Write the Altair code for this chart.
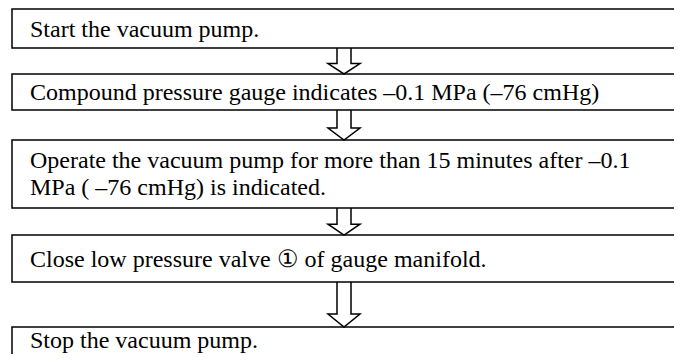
import altair as alt
import pandas as pd

# Flowchart steps (screen-pixel layout)
box_top = [9, 74, 140, 235, 327]
box_bottom = [48, 110, 208, 282, 380]
step_lines = [
    ["Start the vacuum pump."],
    ["Compound pressure gauge indicates \u20130.1 MPa (\u201376 cmHg)"],
    ["Operate the vacuum pump for more than 15 minutes after \u20130.1",
     "MPa ( \u201376 cmHg) is indicated."],
    ["Close low pressure valve \u2460  of gauge manifold."],
    ["Stop the vacuum pump."],
]
line_baselines = [[37], [100], [168, 195], [267], [348]]

BOX_LEFT, BOX_RIGHT, TEXT_X = 12, 700, 30
ARROW_X, SHAFT_HALF, HEAD_HALF = 344, 7, 16

boxes = pd.DataFrame({"x": BOX_LEFT, "x2": BOX_RIGHT, "y": box_top, "y2": box_bottom})

text_rows = []
for lines, bases in zip(step_lines, line_baselines):
    for t, b in zip(lines, bases):
        text_rows.append({"x": TEXT_X, "y": b, "label": t})
texts = pd.DataFrame(text_rows)

arrow_rows = []
for i in range(len(box_top) - 1):
    y0 = box_bottom[i]
    y1 = box_top[i + 1]
    head = min(13, (y1 - y0) * 0.4)
    yh = y1 - head
    pts = [(ARROW_X - SHAFT_HALF, y0), (ARROW_X - SHAFT_HALF, yh), (ARROW_X - HEAD_HALF, yh),
           (ARROW_X, y1), (ARROW_X + HEAD_HALF, yh), (ARROW_X + SHAFT_HALF, yh),
           (ARROW_X + SHAFT_HALF, y0)]
    for k, (px, py) in enumerate(pts):
        arrow_rows.append({"arrow": i, "order": k, "x": px, "y": py})
arrows = pd.DataFrame(arrow_rows)

xs = alt.Scale(domain=[8, 674], nice=False, zero=False)
ys = alt.Scale(domain=[354, 8], nice=False, zero=False)

rects = alt.Chart(boxes).mark_rect(fill="white", stroke="black", strokeWidth=1.5, clip=True).encode(
    x=alt.X("x:Q", scale=xs, axis=None),
    x2="x2:Q",
    y=alt.Y("y:Q", scale=ys, axis=None),
    y2="y2:Q",
)

arrow_lines = alt.Chart(arrows).mark_line(color="black", strokeWidth=1.5, clip=True).encode(
    x=alt.X("x:Q", scale=xs, axis=None),
    y=alt.Y("y:Q", scale=ys, axis=None),
    detail="arrow:N",
    order="order:Q",
)

labels = alt.Chart(texts).mark_text(
    align="left", baseline="alphabetic", font="Liberation Serif", fontSize=24, color="black"
).encode(
    x=alt.X("x:Q", scale=xs, axis=None),
    y=alt.Y("y:Q", scale=ys, axis=None),
    text="label:N",
)

chart = alt.layer(rects, arrow_lines, labels).properties(
    width=666, height=346, autosize=alt.AutoSizeParams(type="none"), padding=0
).configure_view(stroke=None)

chart.save("out.html", embed_options={"renderer": "svg", "actions": False})
